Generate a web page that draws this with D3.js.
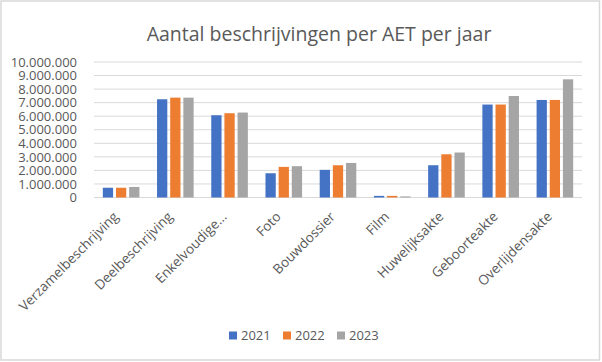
<!DOCTYPE html>
<html>
<head>
<meta charset="utf-8">
<script src="https://cdn.jsdelivr.net/npm/d3@7"></script>
<style>
  body { margin: 0; background: #fff; }
  svg { display: block; font-family: "Open Sans", sans-serif; }
</style>
</head>
<body>
<div id="chart"></div>
<script>
// Categories and yearly values (in millions)
var categories = ["Verzamelbeschrijving", "Deelbeschrijving", "Enkelvoudige...", "Foto",
  "Bouwdossier", "Film", "Huwelijksakte", "Geboorteakte", "Overlijdensakte"];
var years = ["2021", "2022", "2023"];
var values2021 = [0.72, 7.25, 6.07, 1.79, 2.04, 0.12, 2.38, 6.86, 7.20];
var values2022 = [0.72, 7.37, 6.22, 2.26, 2.38, 0.12, 3.19, 6.86, 7.20];
var values2023 = [0.78, 7.37, 6.27, 2.31, 2.55, 0.08, 3.32, 7.49, 8.72];
var yTicks = [0, 1, 2, 3, 4, 5, 6, 7, 8, 9, 10];
var colors = ["#4472C4", "#ED7D31", "#A5A5A5"];

var series = [values2021, values2022, values2023];

var W = 602, H = 362;
var margin = { top: 62, right: 20, bottom: 165, left: 94 },
  width = 582 - margin.left,
  height = 197.5 - margin.top;

var svg = d3.select("#chart").append("svg")
  .attr("width", W).attr("height", H);

// chart border
svg.append("rect")
  .attr("x", 1).attr("y", 1)
  .attr("width", 598.5).attr("height", 359)
  .attr("fill", "#fff")
  .attr("stroke", "#d9d9d9")
  .attr("stroke-width", 1.5);

// title
svg.append("text")
  .attr("x", 319).attr("y", 41)
  .attr("text-anchor", "middle")
  .style("font-size", "19.5px")
  .style("fill", "#595959")
  .text("Aantal beschrijvingen per AET per jaar");

var g = svg.append("g")
  .attr("transform", "translate(" + margin.left + "," + margin.top + ")");

var x0 = d3.scaleBand().domain(categories).range([0, width]);
var x1 = d3.scaleBand().domain(years).range([-18.3, 18.3]).paddingInner(0.22);
var y = d3.scaleLinear().domain([0, 10]).range([height, 0]);

// gridlines
g.append("g")
  .selectAll("line")
  .data(yTicks)
  .join("line")
  .attr("x1", 0).attr("x2", width)
  .attr("y1", function (d) { return y(d); })
  .attr("y2", function (d) { return y(d); })
  .attr("stroke", "#d9d9d9")
  .attr("stroke-width", 1);

// y axis labels
var fmt = function (d) {
  return d === 0 ? "0" : d3.format(",")(d * 1000000).replace(/,/g, ".");
};
var yAxis = g.append("g")
  .attr("transform", "translate(-14,0)")
  .call(d3.axisLeft(y).tickValues(yTicks).tickFormat(fmt).tickSize(0));
yAxis.select(".domain").remove();
yAxis.selectAll("text")
  .style("font-family", "Open Sans")
  .style("font-size", "13px")
  .style("fill", "#595959");

// bars
var groups = g.append("g")
  .selectAll("g")
  .data(categories)
  .join("g")
  .attr("transform", function (d) {
    return "translate(" + (x0(d) + x0.bandwidth() / 2) + ",0)";
  });

groups.selectAll("rect")
  .data(function (d, i) {
    return years.map(function (yr, j) { return { year: yr, value: series[j][i], idx: j }; });
  })
  .join("rect")
  .attr("x", function (d) { return x1(d.year); })
  .attr("width", x1.bandwidth())
  .attr("y", function (d) { return y(d.value); })
  .attr("height", function (d) { return height - y(d.value); })
  .attr("fill", function (d) { return colors[d.idx]; });

// category labels, rotated
var xAxis = g.append("g")
  .attr("transform", "translate(0," + height + ")")
  .call(d3.axisBottom(x0).tickSize(0));
xAxis.select(".domain").remove();
xAxis.selectAll("text")
  .style("font-family", "Open Sans")
  .style("font-size", "13.5px")
  .style("fill", "#595959")
  .attr("text-anchor", "end")
  .attr("dy", null)
  .attr("y", 0)
  .attr("transform", "translate(-2,20) rotate(-45)");

// legend
var legend = svg.append("g")
  .attr("transform", "translate(229,331.5)");
var item = legend.selectAll("g")
  .data(years)
  .join("g")
  .attr("transform", function (d, i) { return "translate(" + (i * 54) + ",0)"; });
item.append("rect")
  .attr("width", 8).attr("height", 8)
  .attr("fill", function (d, i) { return colors[i]; });
item.append("text")
  .attr("x", 12).attr("y", 8.5)
  .style("font-size", "13px")
  .style("fill", "#595959")
  .text(function (d) { return d; });
</script>
</body>
</html>
